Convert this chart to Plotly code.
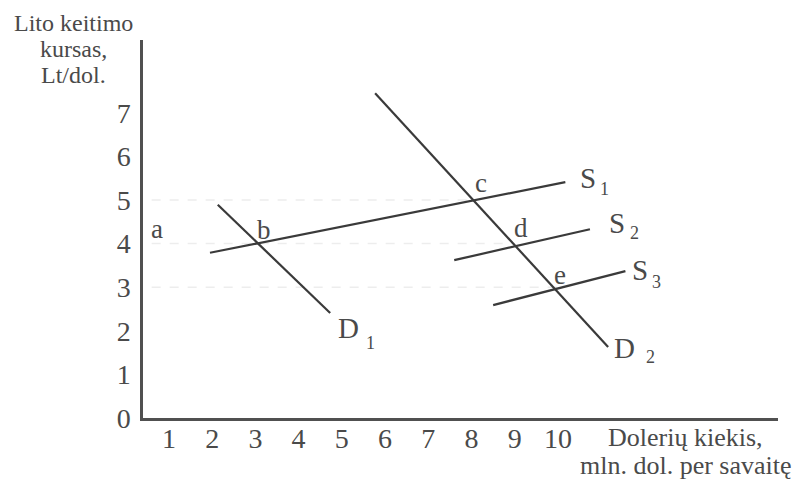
import plotly.graph_objects as go

# Demand / supply line endpoints (quantity, exchange rate)
d1_x = [2.13, 4.73]
d1_y = [4.89, 2.41]
d2_x = [5.77, 11.16]
d2_y = [7.45, 1.63]
s1_x = [1.95, 10.17]
s1_y = [3.79, 5.41]
s2_x = [7.6, 10.74]
s2_y = [3.62, 4.33]
s3_x = [8.5, 11.56]
s3_y = [2.59, 3.37]

# faint guide lines (equilibrium levels)
guide_levels = [5, 4, 3]
guide_ends = [8, 9, 10]

x_ticks = [1, 2, 3, 4, 5, 6, 7, 8, 9, 10]
y_ticks = [0, 1, 2, 3, 4, 5, 6, 7]

# point labels: (text, x, y)
point_labels = [("a", 0.72, 4.33), ("b", 3.19, 4.31), ("c", 8.22, 5.39),
                ("d", 9.15, 4.36), ("e", 10.05, 3.28)]
# curve labels: (main, sub, x, y, sub_x, sub_y)
curve_labels = [("S", "1", 10.70, 5.50, 11.07, 5.25),
                ("S", "2", 11.37, 4.47, 11.76, 4.25),
                ("S", "3", 11.90, 3.39, 12.27, 3.13),
                ("D", "1", 5.15, 2.07, 5.67, 1.72),
                ("D", "2", 11.55, 1.61, 12.14, 1.40)]

y_title_lines = ["Lito keitimo", "kursas,", "Lt/dol."]
x_title_lines = ["Dolerių kiekis,", "mln. dol. per savaitę"]

FONT = "Liberation Serif"
TXT = "#4a4a4a"
LINE = "#3a3a3a"

fig = go.Figure()

for lvl, xe in zip(guide_levels, guide_ends):
    fig.add_trace(go.Scatter(x=[0.6, xe], y=[lvl, lvl], mode="lines",
                             line=dict(color="#ededed", width=1.5, dash="dash"),
                             hoverinfo="skip", showlegend=False))

for xs, ys in [(d1_x, d1_y), (d2_x, d2_y), (s1_x, s1_y), (s2_x, s2_y), (s3_x, s3_y)]:
    fig.add_trace(go.Scatter(x=xs, y=ys, mode="lines",
                             line=dict(color=LINE, width=2.2),
                             showlegend=False))

ann = []
for t, x, y in point_labels:
    ann.append(dict(x=x, y=y, text=t, showarrow=False, xref="x", yref="y",
                    font=dict(family=FONT, size=27, color=TXT)))
for m, s, x, y, sx, sy in curve_labels:
    ann.append(dict(x=x, y=y, text=m, showarrow=False, xref="x", yref="y",
                    font=dict(family=FONT, size=29, color=TXT)))
    ann.append(dict(x=sx, y=sy, text=s, showarrow=False, xref="x", yref="y",
                    font=dict(family=FONT, size=18, color=TXT)))

# pixel rows (page coordinates) of the title lines
PT, PB = 40, 418
for t, py in zip(y_title_lines, [23, 49, 75]):
    ann.append(dict(x=-0.11, y=(PB - py) / (PB - PT), text=t, showarrow=False,
                    xref="paper", yref="paper", xanchor="center", yanchor="middle",
                    font=dict(family=FONT, size=24, color=TXT)))
for t, py in zip(x_title_lines, [437, 465]):
    ann.append(dict(x=0.855, y=(PB - py) / (PB - PT), text=t, showarrow=False,
                    xref="paper", yref="paper", xanchor="center", yanchor="middle",
                    font=dict(family=FONT, size=26, color=TXT)))

# page body has an 8px default margin, so the figure is shifted by 8px
fig.update_layout(
    width=796, height=476,
    margin=dict(l=135, r=26, t=32, b=66),
    paper_bgcolor="white", plot_bgcolor="white",
    annotations=ann,
    xaxis=dict(range=[0.40, 15.09], tickvals=x_ticks, ticktext=[str(v) for v in x_ticks],
               showgrid=False, zeroline=False, showline=True, linecolor="#505050",
               linewidth=2.5, ticks="", ticklabelstandoff=-6,
               tickfont=dict(family=FONT, size=28, color=TXT)),
    yaxis=dict(range=[0, 8.67], tickvals=y_ticks, ticktext=[str(v) for v in y_ticks],
               showgrid=False, zeroline=False, showline=True, linecolor="#505050",
               linewidth=2.5, ticks="", ticklabelstandoff=4,
               tickfont=dict(family=FONT, size=28, color=TXT)),
)

fig.write_html("out.html")
